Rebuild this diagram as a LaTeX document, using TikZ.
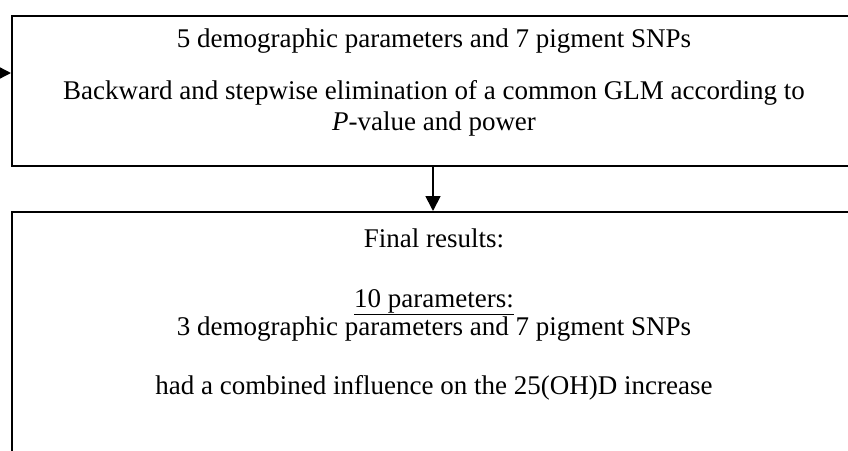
\documentclass[tikz,border=0pt]{standalone}
\usepackage{fontspec}
\setmainfont{Liberation Serif}
\usetikzlibrary{arrows.meta}
\begin{document}
\begin{tikzpicture}[x=1pt,y=-1pt,
  box/.style={draw=black,line width=1.8pt,rectangle,inner sep=0pt},
  txt/.style={font=\fontsize{27}{32}\selectfont,inner sep=0pt,anchor=base},
  arr/.style={line width=1.8pt,-{Triangle[length=15pt,width=15pt]}}]
\useasboundingbox (0,0) rectangle (848,450);
\clip (0,0) rectangle (848,450);
\node[box,minimum width=850pt,minimum height=150pt,anchor=north west] (top) at (11,15) {};
\node[box,minimum width=850pt,minimum height=280pt,anchor=north west] (bot) at (11,211) {};
\coordinate (src) at (-5,73);
\draw[arr] (src) -- (top.west |- src);
\coordinate (a1) at (433,165);
\coordinate (a2) at (433,211);
\draw[arr] (a1) -- (a2);
\node[txt] (t1) at (434,47) {5 demographic parameters and 7 pigment SNPs};
\node[txt] (t2) at (434,99) {Backward and stepwise elimination of a common GLM according to};
\node[txt] (t3) at (434,130) {\textit{P}-value and power};
\node[txt] (b1) at (434,247) {Final results:};
\node[txt] (b2) at (434,307) {\underline{10 parameters:}};
\node[txt] (b3) at (434,335) {3 demographic parameters and 7 pigment SNPs};
\node[txt] (b4) at (434,394) {had a combined influence on the 25(OH)D increase};
\end{tikzpicture}
\end{document}
